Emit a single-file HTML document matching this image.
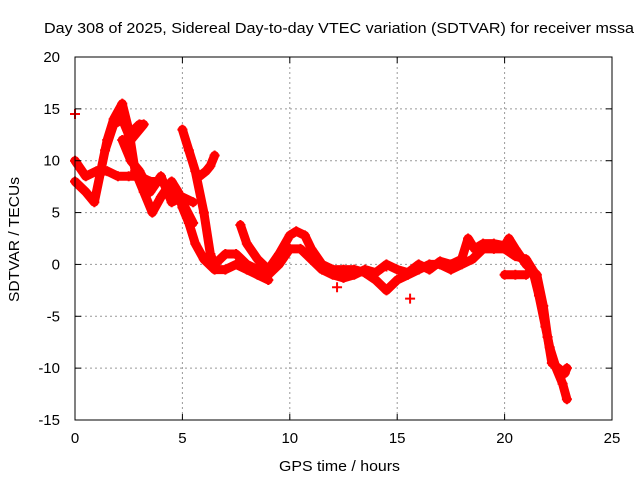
<!DOCTYPE html>
<html><head><meta charset="utf-8"><style>
body{margin:0;background:#fff}
svg{font-family:"Liberation Sans",sans-serif;font-size:15px}
</style></head><body>
<svg width="640" height="480" xmlns="http://www.w3.org/2000/svg">
<g id="grid"></g>
<g id="series"></g>
<rect x="75" y="57" width="537" height="363" fill="none" stroke="#000" stroke-width="1"/>
<g id="ticks"></g>
<text x="44" y="33" textLength="590" lengthAdjust="spacingAndGlyphs">Day 308 of 2025, Sidereal Day-to-day VTEC variation (SDTVAR) for receiver mssa</text>
<text x="279" y="471" textLength="121" lengthAdjust="spacingAndGlyphs">GPS time / hours</text>
<text transform="translate(19,302) rotate(-90)" textLength="125" lengthAdjust="spacingAndGlyphs">SDTVAR / TECUs</text>
</svg>
<script>
const xTicks=[0,5,10,15,20,25];
const yTicks=[-15,-10,-5,0,5,10,15,20];
const t1h=[0,0.5,0.9,1.2,1.5,1.8,2.2,2.5,2.8,3.2,3.6,4,4.5,4.8,5,5.3,5.6,6,6.5,7,7.5,8,8.5,9];
const t1v=[8,7,6,9,12,14,15.5,13,9,7,5,6.5,8,7,5.5,4,2,0.5,-0.5,-0.5,0,-0.5,-1,-1.5];
const t2h=[0,0.5,1,1.5,2,2.5,3,3.5,4,4.5,5,5.5];
const t2v=[10,8.5,9,9,8.5,8.5,8.5,8,8,7.5,6,4];
const t3h=[1.4,1.8,2.2,2.5,3,3.2,2.6,2.2,2.6,3,3.5,4,4.5,5,5.5];
const t3v=[11,13.5,14,12.5,13.5,13.5,12,12,10,9,7,8.5,6,6.5,6];
const t4h=[5,5.3,5.6,6,6.3,6.5,7,7.5,8,8.5,9];
const t4v=[13,11,9,5,1,0,1,1,0,-0.5,-1];
const t5h=[5.8,6.1,6.3,6.5];
const t5v=[8.5,9,9.5,10.5];
const t6h=[7.7,8,8.5,9,9.5,10,10.3,10.7,11,11.5,12,12.5,13,13.5,14,14.5,15,15.5,16,16.5,17,17.5,18,18.5,19,19.5,20,20.5,21,21.3,21.6,21.9,22.1,22.4,22.7,22.9];
const t6v=[3.8,2,0.5,-0.5,1,2.8,3.2,2.8,1.5,0,-0.5,-0.5,-0.5,-0.8,-1.5,-2.5,-1.5,-1,-0.5,0,0,-0.5,0,0.5,1.5,1.5,1.5,0.8,0.5,-0.5,-3,-6,-8,-10,-11.5,-13];
const t7h=[9,9.5,10,10.5,11,11.5,12,12.5,13,13.5,14,14.5,15,15.5,16,16.5,17,17.5,18,18.3,18.6,19,19.5,20,20.2,20.5,21,21.5,21.8,22,22.2,22.5,22.8,22.9];
const t7v=[-1,0,1.5,1.5,0.5,-0.5,-1,-1.3,-1,-0.5,-0.8,0,-0.5,-0.8,0,-0.5,0.3,0,0.5,2.5,1.5,2,2,1.8,2.5,1.5,0,-1,-4,-7,-9.5,-10,-10.5,-10];
const t8h=[20,20.5,21];
const t8v=[-1,-1,-1];
const t9h=[0,14.5,15.6,12.2];
const t9v=[14.5,-0.2,-3.3,-2.2];
const X=h=>75+h*537/25, Y=v=>420-(v+15)*363/35;
const NS="http://www.w3.org/2000/svg";
const grid=document.getElementById('grid'),ticks=document.getElementById('ticks'),ser=document.getElementById('series');
function mk(tag,at,p){const e=document.createElementNS(NS,tag);for(const k in at)e.setAttribute(k,at[k]);p.appendChild(e);return e;}
xTicks.forEach(t=>{const x=X(t);
 if(t>0&&t<25){const g=mk('line',{x1:x,x2:x,y1:57,y2:420,stroke:'#999','stroke-dasharray':'2,3'},grid);
 
 }
 mk('line',{x1:x,x2:x,y1:420,y2:414,stroke:'#000'},ticks);mk('line',{x1:x,x2:x,y1:57,y2:63,stroke:'#000'},ticks);
 const l=mk('text',{x:x,y:443,'text-anchor':'middle'},ticks);l.textContent=t;
 
 });
yTicks.forEach(t=>{const y=Y(t);
 if(t>-15&&t<20){const g=mk('line',{x1:75,x2:612,y1:y,y2:y,stroke:'#999','stroke-dasharray':'2,3'},grid);
 
 }
 mk('line',{x1:75,x2:81,y1:y,y2:y,stroke:'#000'},ticks);mk('line',{x1:612,x2:606,y1:y,y2:y,stroke:'#000'},ticks);
 const l=mk('text',{x:60,y:y+5,'text-anchor':'end'},ticks);l.textContent=t;
 
 });
[[t1h,t1v],[t2h,t2v],[t3h,t3v],[t4h,t4v],[t5h,t5v],[t6h,t6v],[t7h,t7v],[t8h,t8v]].forEach(([hs,vs],i)=>{
 const pts=hs.map((h,j)=>X(h)+','+Y(vs[j])).join(' ');
 const pl=mk('polyline',{points:pts,fill:'none',stroke:'#f00','stroke-width':9,'stroke-linejoin':'round','stroke-linecap':'round'},ser);
 
 
});
[[t1h,t1v],[t2h,t2v],[t3h,t3v],[t4h,t4v],[t5h,t5v],[t6h,t6v],[t7h,t7v],[t8h,t8v],[t9h,t9v]].forEach(([hs,vs])=>{
 hs.forEach((h,j)=>{const x=X(h),y=Y(vs[j]);
  const p=mk('path',{d:`M${x-5},${y}h10M${x},${y-5}v10`,stroke:'#f00','stroke-width':2},ser);
  
  });
});
</script>
</body></html>
